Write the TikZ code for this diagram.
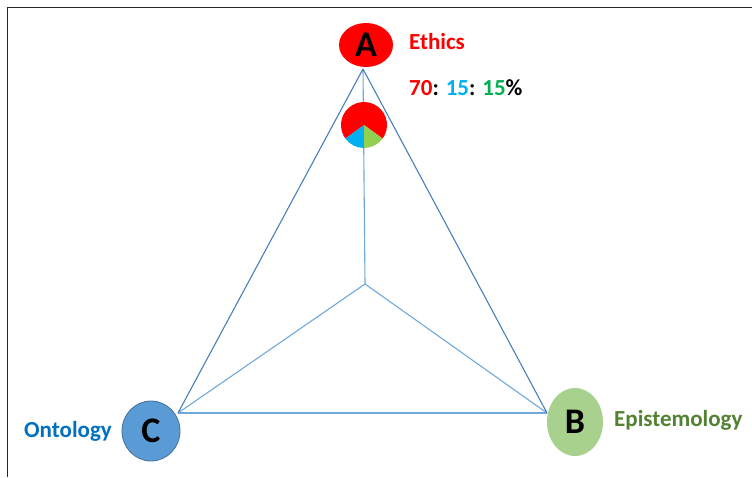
\documentclass[tikz,border=0pt]{standalone}
\usepackage{fontspec}
\setmainfont{Carlito}
\usetikzlibrary{shapes.geometric}
\definecolor{outerl}{HTML}{4A7EBB}
\definecolor{innerl}{HTML}{6FA8DC}
\definecolor{cfill}{HTML}{5B9BD5}
\definecolor{cdraw}{HTML}{41719C}
\definecolor{bfill}{HTML}{A9D18E}
\definecolor{ontol}{HTML}{0070C0}
\definecolor{epist}{HTML}{548235}
\definecolor{pblue}{HTML}{00B0F0}
\definecolor{pgreen}{HTML}{00B050}
\definecolor{pgreenl}{HTML}{92D050}
\tikzset{
  vert/.style={ellipse, inner sep=0pt, font=\fontsize{36}{40}\selectfont\bfseries},
  lbl/.style={anchor=west, inner sep=0pt, font=\fontsize{23}{27}\selectfont\bfseries},
  outer/.style={draw=outerl, line width=1.1pt},
  innerln/.style={draw=innerl, line width=1.1pt}
}
\begin{document}
\begin{tikzpicture}[x=1pt,y=-1pt]
\useasboundingbox (0,0) rectangle (752,477);
% frame
\draw[line width=1.5pt, black!85] (7.5,477) -- (7.5,7.5) -- (752,7.5);
% anchor coordinates
\coordinate (ta) at (363,69);
\coordinate (tc) at (178,413);
\coordinate (tb) at (547,413);
\coordinate (ctr) at (365,284);
% inner lines
\draw[innerln] (ta) -- (ctr);
\draw[innerln] (ctr) -- (tc);
\draw[innerln] (ctr) -- (tb);
\draw[innerln] (tc) -- (tb);
% outer lines
\draw[outer] (ta) -- (tc);
\draw[outer] (ta) -- (tb);
% pie (y axis points down, so angles are mirrored)
\coordinate (pc) at (364,125);
\fill[red] (pc) -- ++(36:23) arc[start angle=36, end angle=-216, radius=23] -- cycle;
\fill[pblue] (pc) -- ++(144:23) arc[start angle=144, end angle=90, radius=23] -- cycle;
\fill[pgreenl] (pc) -- ++(90:23) arc[start angle=90, end angle=36, radius=23] -- cycle;
% vertices
\node[vert, fill=red, minimum width=54pt, minimum height=44pt] (A) at (366,45) {A};
\node[vert, fill=bfill, minimum width=56pt, minimum height=68pt] (B) at (575,422) {B};
\node[vert, fill=cfill, draw=cdraw, line width=0.8pt, minimum width=58pt, minimum height=60pt] (C) at (151,431) {C};
% labels
\node[lbl, text=red] (ethics) at (409,42) {Ethics};
\node[lbl] (pct) at (409,88) {\textcolor{red}{70}: \textcolor{pblue}{15}: \textcolor{pgreen}{15}\%};
\node[lbl, text=epist] (epi) at (614,420) {Epistemology};
\node[lbl, text=ontol, anchor=east] (onto) at (112,431) {Ontology};
\end{tikzpicture}
\end{document}
